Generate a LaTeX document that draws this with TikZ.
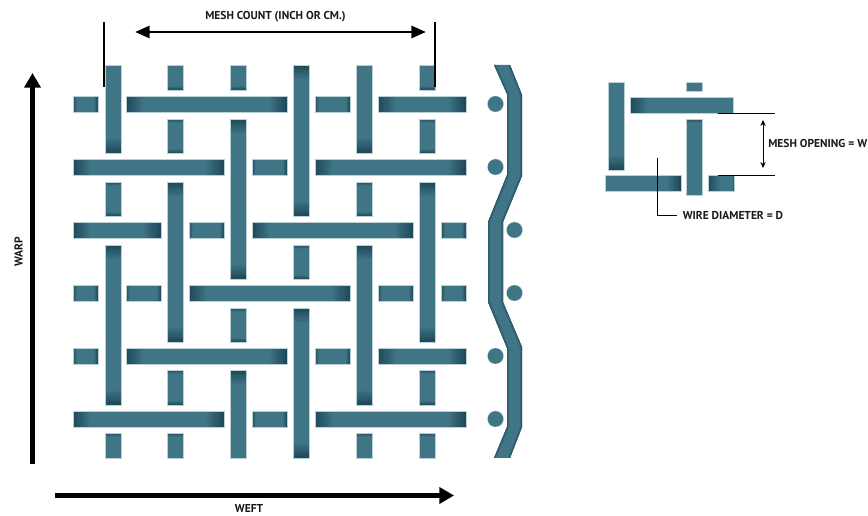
\documentclass[tikz,border=0pt]{standalone}
\usepackage{fontspec}
\setmainfont{PT Sans}
\usetikzlibrary{arrows.meta}
\definecolor{wirebase}{RGB}{64,117,134}
\definecolor{wiredark}{RGB}{31,72,88}
\definecolor{wireedge}{RGB}{185,208,215}
\newcommand{\hwire}[5]{
\fill[wirebase] (#1,#3-8) rectangle (#2,#3+8);
\foreach \pc in {12,24,...,96}{
  \fill[wiredark!\pc!wirebase] (#1,#3-8) rectangle (#1+#4*1.08-#4*\pc/100,#3+8);
  \fill[wiredark!\pc!wirebase] (#2-#5*1.08+#5*\pc/100,#3-8) rectangle (#2,#3+8);
}
\draw[wireedge, line width=0.3pt] (#1,#3-8) rectangle (#2,#3+8);
}
\newcommand{\vwire}[5]{
\fill[wirebase] (#1-8,#2) rectangle (#1+8,#3);
\foreach \pc in {12,24,...,96}{
  \fill[wiredark!\pc!wirebase] (#1-8,#2) rectangle (#1+8,#2+#4*1.08-#4*\pc/100);
  \fill[wiredark!\pc!wirebase] (#1-8,#3-#5*1.08+#5*\pc/100) rectangle (#1+8,#3);
}
\draw[wireedge, line width=0.3pt] (#1-8,#2) rectangle (#1+8,#3);
}
\tikzset{
  label text/.style={font=\bfseries\fontsize{8.6}{10}\selectfont, inner sep=0pt, text=black!90},
  big arrow/.style={line width=3.75pt, -{Triangle[length=11pt,width=12pt]}},
  top arrow/.style={line width=2.2pt, {Triangle[length=11pt,width=9pt]}-{Triangle[length=11pt,width=9pt]}},
  thin line/.style={line width=0.7pt},
  knuckle/.style={wirebase, draw=wireedge, line width=0.2pt}
}
\begin{document}
\begin{tikzpicture}[x=0.75pt, y=-0.75pt]
\useasboundingbox (0,0) rectangle (868,516);
\foreach \yc/\segs in {104/{73/98,126/287,315/350,378/466},
  167/{73/224,252/287,315/466},
  230/{73/161,189/224,252/413,441/466},
  293/{73/98,126/161,189/350,378/413,441/466},
  356/{73/98,126/287,315/350,378/466},
  419/{73/224,252/287,315/466}}{
  \foreach \xa/\xb in \segs {
    \pgfmathsetmacro{\fadelen}{\xb-\xa>60?18:4}
    \hwire{\xa}{\xb}{\yc}{\fadelen}{\fadelen}
  }
}
\foreach \xc/\segs in {113/{65/153,182/216,245/405,433/458},
  175/{65/90,119/153,182/342,370/405,433/458},
  238/{65/90,119/279,308/342,370/458},
  301/{65/216,245/279,308/458},
  364/{65/153,182/216,245/405,433/458},
  427/{65/90,119/153,182/342,370/405,433/458}}{
  \foreach \ya/\yb in \segs {
    \pgfmathsetmacro{\fadelen}{\yb-\ya>60?15:4}
    \pgfmathsetmacro{\fadetop}{(\ya==65&&\xc!=301)?0.5:\fadelen}
    \pgfmathsetmacro{\fadebot}{(\yb==458&&\xc!=301)?0.5:\fadelen}
    \vwire{\xc}{\ya}{\yb}{\fadetop}{\fadebot}
  }
}

\begin{scope}
\clip (494,65) -- (507,94) -- (507,175) -- (488,222) -- (488,302) -- (507,348) -- (507,427) -- (494,458)
  -- (510,458) -- (522,427) -- (522,347) -- (503,302) -- (503,222) -- (522,176) -- (522,95) -- (510,65) -- cycle;
\fill[wirebase] (480,60) rectangle (530,460);
\draw[wiredark!35!wirebase, line width=3pt] (494,65) -- (507,94) -- (507,175) -- (488,222) -- (488,302) -- (507,348) -- (507,427) -- (494,458)
  (510,458) -- (522,427) -- (522,347) -- (503,302) -- (503,222) -- (522,176) -- (522,95) -- (510,65);
\draw[wiredark!60!wirebase, line width=1.2pt] (494,65) -- (507,94) -- (507,175) -- (488,222) -- (488,302) -- (507,348) -- (507,427) -- (494,458)
  (510,458) -- (522,427) -- (522,347) -- (503,302) -- (503,222) -- (522,176) -- (522,95) -- (510,65);
\end{scope}
\foreach \xc/\yc in {495.5/104,495.5/167,514.5/230,514.5/293,495.5/356,495.5/419}{
  \fill[knuckle] (\xc,\yc) circle (8);
}

\vwire{616}{82}{170}{0.5}{15}
\vwire{694.5}{82}{91}{0.5}{0.5}
\hwire{630}{733.5}{105.5}{18}{0.5}
\vwire{694.5}{119}{195}{4}{0.5}
\hwire{605}{681}{183.7}{0.5}{14}
\hwire{708}{733.7}{183.7}{12}{0.5}

\coordinate (warpstart) at (32.5,464);
\coordinate (warpend) at (32.5,73);
\coordinate (weftstart) at (55,495.5);
\coordinate (weftend) at (454,495.5);
\coordinate (countleft) at (135,32);
\coordinate (countright) at (426,32);
\coordinate (tickleftup) at (104,22);
\coordinate (tickleftdown) at (104,87);
\coordinate (tickrightup) at (435,22);
\coordinate (tickrightdown) at (435,87);
\coordinate (opentopa) at (717.5,113.3);
\coordinate (opentopb) at (774.5,113.3);
\coordinate (openbota) at (717.5,175.3);
\coordinate (openbotb) at (774.5,175.3);
\coordinate (openarrowtop) at (763,120);
\coordinate (openarrowbot) at (763,168);
\coordinate (diamstart) at (657,158);

\draw[big arrow] (warpstart) -- (warpend);
\draw[big arrow] (weftstart) -- (weftend);
\draw[top arrow] (countleft) -- (countright);
\draw[thin line, line width=1.1pt] (tickleftup) -- (tickleftdown);
\draw[thin line, line width=1.1pt] (tickrightup) -- (tickrightdown);
\draw[thin line] (opentopa) -- (opentopb);
\draw[thin line] (openbota) -- (openbotb);
\draw[thin line, {Stealth[length=4.5pt,width=4pt]}-{Stealth[length=4.5pt,width=4pt]}] (openarrowtop) -- (openarrowbot);

\node[label text] (meshcount) at (275.5,17) {MESH COUNT (INCH OR CM.)};
\node[label text, rotate=90] (warp) at (18.5,252) {WARP};
\node[label text] (weft) at (249,509) {WEFT};
\node[label text, anchor=west] (meshopening) at (768,143) {MESH OPENING = W};
\node[label text, anchor=west] (wirediameter) at (682.5,215) {WIRE DIAMETER = D};
\draw[thin line] (diamstart) |- ([xshift=-4.5pt]wirediameter.west);
\end{tikzpicture}
\end{document}
